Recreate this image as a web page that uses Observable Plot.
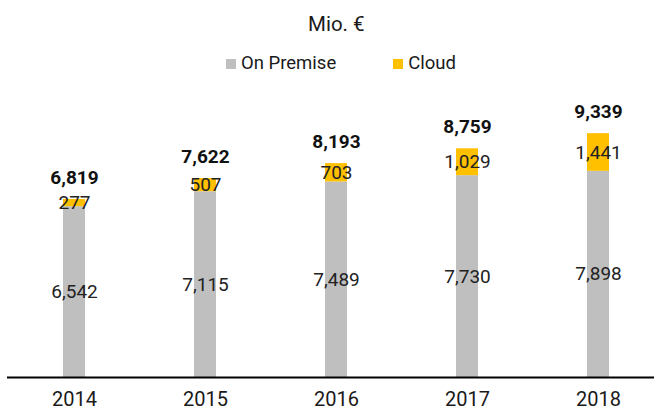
<!DOCTYPE html>
<html>
<head>
<meta charset="utf-8">
<script src="https://cdn.jsdelivr.net/npm/d3@7"></script>
<script src="https://cdn.jsdelivr.net/npm/@observablehq/plot@0.6"></script>
<style>
  html, body { margin: 0; padding: 0; background: #fff; }
  body { width: 654px; height: 412px; overflow: hidden; font-family: Roboto, sans-serif; color: #1a1a1a; }
  .title { box-sizing: border-box; height: 40px; padding-top: 14px; padding-left: 308px; font-size: 20.5px; line-height: 20px; white-space: nowrap; }
  .legend { box-sizing: border-box; height: 40px; padding-top: 54px; margin-top: -40px; padding-left: 226px; display: flex; align-items: flex-start; font-size: 18.5px; line-height: 19px; white-space: nowrap; }
  .legend .item { display: flex; align-items: center; height: 19px; }
  .legend .sw { width: 10px; height: 10px; margin-right: 5px; }
  #chart svg { display: block; }
</style>
</head>
<body>
<div class="title">Mio. €</div>
<div class="legend" id="legend"></div>
<div id="chart"></div>
<script>
const years = ["2014", "2015", "2016", "2017", "2018"];
const onPremise = [6542, 7115, 7489, 7730, 7898];
const cloud = [277, 507, 703, 1029, 1441];
const totals = [6819, 7622, 8193, 8759, 9339];
const seriesNames = ["On Premise", "Cloud"];
const seriesColors = ["#bfbfbf", "#ffc000"];

const fmt = d3.format(",");
const data = years.flatMap((year, i) => [
  {year, series: seriesNames[0], value: onPremise[i]},
  {year, series: seriesNames[1], value: cloud[i]}
]);

// legend
const legend = document.getElementById("legend");
legend.style.height = "80px";
seriesNames.forEach((name, i) => {
  const item = document.createElement("div");
  item.className = "item";
  if (i > 0) item.style.marginLeft = "57px";
  const sw = document.createElement("span");
  sw.className = "sw";
  sw.style.background = seriesColors[i];
  const label = document.createElement("span");
  label.textContent = name;
  item.appendChild(sw);
  item.appendChild(label);
  legend.appendChild(item);
});

const chart = Plot.plot({
  width: 654,
  height: 332,
  marginTop: 0,
  marginBottom: 35,
  marginLeft: 7,
  marginRight: 0,
  style: {fontFamily: "Roboto, sans-serif", color: "#1a1a1a", background: "#fff"},
  x: {domain: years, range: [7.25, 664.75], paddingInner: 0.8327, paddingOuter: 0.41635, align: 0.5},
  y: {domain: [0, 11375], axis: null},
  color: {domain: seriesNames, range: seriesColors},
  marks: [
    Plot.barY(data, {x: "year", y: "value", fill: "series"}),
    Plot.text(data, Plot.stackY({x: "year", y: "value", z: "series", text: d => fmt(d.value), fontSize: 19, fill: "#222"})),
    Plot.text(years, {x: d => d, y: (d, i) => totals[i], text: (d, i) => fmt(totals[i]), dy: -22, fontSize: 19, fontWeight: "bold", fill: "#111"}),
    Plot.ruleY([0], {stroke: "#000", strokeWidth: 2}),
    Plot.axisX({tickSize: 0, tickPadding: 14, fontSize: 20, label: null, fill: "#1a1a1a"})
  ]
});
document.getElementById("chart").appendChild(chart);
</script>
</body>
</html>
